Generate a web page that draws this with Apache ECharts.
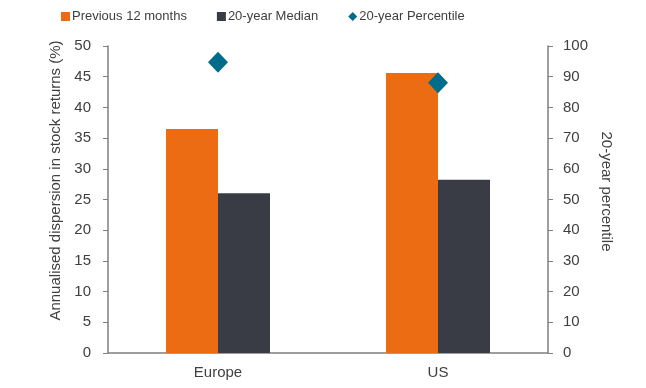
<!DOCTYPE html>
<html><head><meta charset="utf-8">
<script src="https://cdn.jsdelivr.net/npm/echarts@6/dist/echarts.min.js"></script>
<style>html,body{margin:0;padding:0;background:#fff}#c{width:646px;height:388px}</style>
</head><body><div id="c"></div>
<script>
const categories = ['Europe', 'US'];
const previous12m = [36.5, 45.6];
const median20y = [26.0, 28.2];
const percentile20y = [94.7, 88.0];
const leftTicks = [0, 50, 5];
const rightTicks = [0, 100, 10];

const txt = '#404040';
const axisCol = '#7f7f7f';
const chart = echarts.init(document.getElementById('c'));
chart.setOption({
  animation: false,
  textStyle: {fontFamily: 'Liberation Sans, Arial, sans-serif'},
  legend: {
    top: 5, left: 56, itemGap: 30, itemWidth: 9, itemHeight: 9,
    textStyle: {color: txt, fontSize: 13, padding: [0, 0, 0, -3]},
    data: [
      {name: 'Previous 12 months', icon: 'rect'},
      {name: '20-year Median', icon: 'rect'},
      {name: '20-year Percentile', icon: 'diamond'}
    ]
  },
  grid: {left: 108, right: 98, top: 46, bottom: 35},
  xAxis: {
    type: 'category', data: categories,
    axisLine: {lineStyle: {color: axisCol, width: 1.5}},
    axisTick: {show: false},
    axisLabel: {color: txt, fontSize: 15, margin: 12}
  },
  yAxis: [{
    type: 'value', min: leftTicks[0], max: leftTicks[1], interval: leftTicks[2],
    name: 'Annualised dispersion in stock returns (%)', nameLocation: 'middle', nameGap: 45,
    nameTextStyle: {color: txt, fontSize: 15, padding: [0, 0, 0, 38]},
    axisLine: {show: true, lineStyle: {color: axisCol, width: 1.5}},
    axisTick: {show: true, length: 5, lineStyle: {color: axisCol}},
    axisLabel: {color: txt, fontSize: 15, margin: 17},
    splitLine: {show: false}
  }, {
    type: 'value', min: rightTicks[0], max: rightTicks[1], interval: rightTicks[2],
    name: '20-year percentile', nameLocation: 'middle', nameGap: 40, nameRotate: -90,
    nameTextStyle: {color: txt, fontSize: 15, padding: [0, 16, 0, 0]},
    axisLine: {show: true, lineStyle: {color: axisCol, width: 1.5}},
    axisTick: {show: true, length: 5, lineStyle: {color: axisCol}},
    axisLabel: {color: txt, fontSize: 15, margin: 15},
    splitLine: {show: false}
  }],
  series: [
    {name: 'Previous 12 months', type: 'bar', data: previous12m, barWidth: 52, barGap: '0%',
     itemStyle: {color: '#EC6C13'}},
    {name: '20-year Median', type: 'bar', data: median20y, barWidth: 52,
     itemStyle: {color: '#393C45'}},
    {name: '20-year Percentile', type: 'scatter', yAxisIndex: 1, data: percentile20y,
     symbol: 'diamond', symbolSize: [20, 21], itemStyle: {color: '#006C8C', opacity: 1}, z: 5}
  ]
});
</script></body></html>
